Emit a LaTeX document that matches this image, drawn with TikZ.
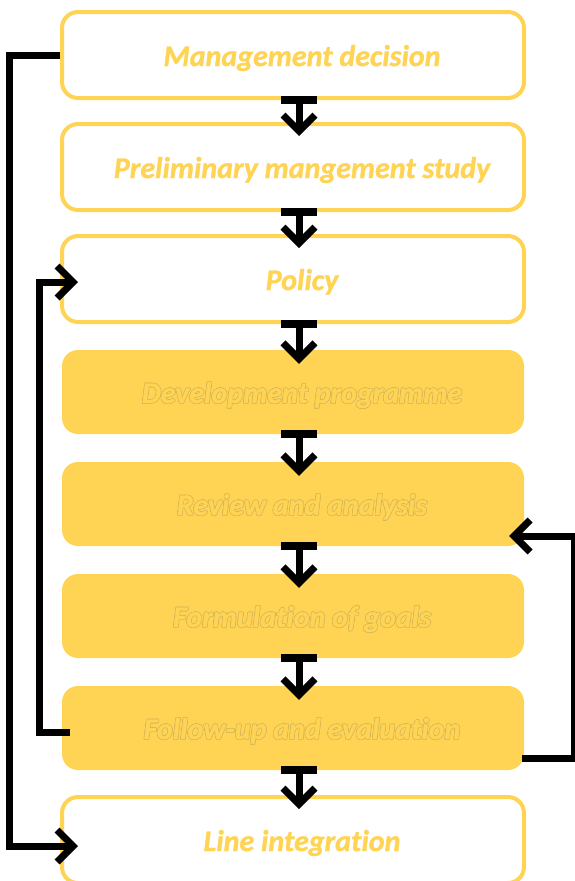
\documentclass[tikz,border=0pt]{standalone}
\usepackage{fontspec}
\setmainfont{Carlito}[Ligatures={NoCommon}, BoldItalicFeatures={FakeBold=1.2}]
\usetikzlibrary{arrows.meta,calc}
\definecolor{gold}{RGB}{255,212,84}
\definecolor{goldedge}{RGB}{214,183,84}
\newcommand\ocopy[3]{\rlap{\kern#1\raisebox{#2}{\textcolor{goldedge}{#3}}}}
\newcommand\olt[1]{\leavevmode\ocopy{-0.6pt}{0pt}{#1}\ocopy{0.6pt}{0pt}{#1}\ocopy{0pt}{0.6pt}{#1}\ocopy{0pt}{-0.6pt}{#1}\ocopy{-0.45pt}{0.45pt}{#1}\ocopy{0.45pt}{0.45pt}{#1}\ocopy{-0.45pt}{-0.45pt}{#1}\ocopy{0.45pt}{-0.45pt}{#1}#1}
\begin{document}
\begin{tikzpicture}[x=1pt,y=-1pt,
  box/.style={rounded corners=16pt, minimum width=462pt, minimum height=86pt, inner sep=0pt},
  openbox/.style={box, draw=gold, line width=4pt, fill=white},
  fullbox/.style={box, fill=gold, minimum height=84pt},
  lbl/.style={font=\bfseries\itshape\fontsize{30}{36}\selectfont, text=gold, anchor=base, inner sep=0pt},
  conn/.style={line width=7pt, black},
  barb/.tip={Straight Barb[length=16pt, width=32pt, line width=7pt, sharp]},
  down/.style={conn, {Bar[width=36pt, line width=8pt]}-barb}
]
\useasboundingbox (0,0) rectangle (575,881);
\node[openbox] (b1) at (293,55) {};
\node[openbox] (b2) at (293,167) {};
\node[openbox] (b3) at (293,279) {};
\node[fullbox] (b4) at (293,392) {};
\node[fullbox] (b5) at (293,504) {};
\node[fullbox] (b6) at (293,616) {};
\node[fullbox] (b7) at (293,728) {};
\node[openbox] (b8) at (293,840) {};

\node[lbl] (t1) at (302,66) {Management decision};
\node[lbl] (t2) at (302,178) {Preliminary mangement study};
\node[lbl] (t3) at (302,290) {Policy};
\node[lbl] (t4) at (302,403) {\olt{Development programme}};
\node[lbl] (t5) at (302,515) {\olt{Review and analysis}};
\node[lbl] (t6) at (302,627) {\olt{Formulation of goals}};
\node[lbl] (t7) at (302,739) {\olt{Follow-up and evaluation}};
\node[lbl] (t8) at (302,851) {Line integration};

\foreach \a/\b in {b1/b2,b2/b3,b3/b4,b4/b5,b5/b6,b6/b7,b7/b8}
  \draw[down] ($(\a.south)+(6,-4)$) -- ($(\b.north)+(6,14)$);

\draw[conn,-barb] (b1.west) -- ++(-51,0) |- ($(b8.west)+(18,6)$);
\draw[conn,-barb] ($(b7.west)+(8,4)$) -- ++(-30,0) |- ($(b3.west)+(18,3)$);
\draw[conn,-barb] ($(b7.east)+(-2,30)$) -- ++(52,0) |- ($(b5.east)+(-15,32)$);
\end{tikzpicture}
\end{document}
